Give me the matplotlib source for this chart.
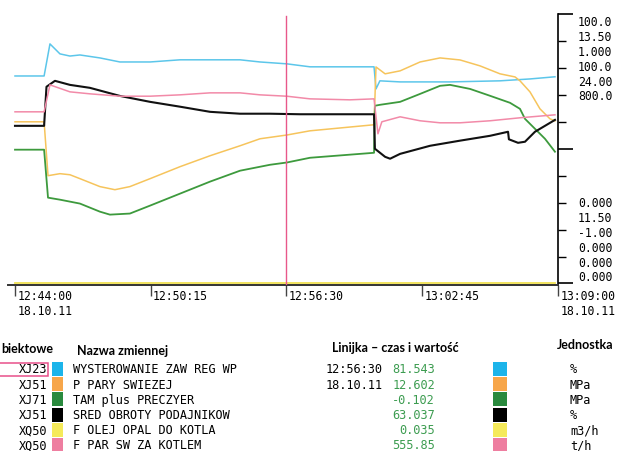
import matplotlib
matplotlib.use("Agg")
import matplotlib.pyplot as plt
from matplotlib.patches import Rectangle
from matplotlib.transforms import Affine2D, blended_transform_factory

# czas w minutach od 12:44:00, wartosci w jednostkach zmiennej
t_cyan = [0, 1.34, 1.61, 2.07, 2.53, 2.99, 3.91, 4.83, 6.22, 7.60, 8.52, 10.36, 11.28, 12.52,
          13.58, 16.53, 16.62, 16.80, 17.73, 20.03, 22.33, 23.71, 24.86]
v_cyan = [77.0, 77.0, 88.9, 85.2, 84.4, 84.8, 83.7, 82.2, 82.2, 83.0, 83.0, 83.0, 82.2, 81.5,
          80.4, 80.4, 72.2, 75.2, 74.8, 74.8, 75.2, 75.9, 76.7]

t_orange = [0, 1.34, 1.52, 2.07, 2.53, 2.99, 3.91, 4.60, 5.29, 6.22, 7.60, 8.98, 10.36, 11.28,
            12.52, 13.58, 16.53, 16.62, 17.04, 17.73, 18.65, 19.57, 20.49, 21.41, 22.33, 23.02,
            23.25, 23.71, 24.17, 24.63, 24.86]
v_orange = [12.700, 12.700, 12.300, 12.315, 12.307, 12.278, 12.219, 12.196, 12.219, 12.278,
            12.367, 12.448, 12.522, 12.574, 12.602, 12.633, 12.678, 13.107, 13.056, 13.078,
            13.144, 13.174, 13.159, 13.115, 13.056, 13.033, 13.004, 12.922, 12.796, 12.722, 12.707]

t_green = [0, 1.34, 1.52, 2.07, 2.99, 3.91, 4.37, 5.29, 6.22, 7.60, 8.98, 10.36, 11.74, 12.52,
           13.58, 16.53, 16.57, 16.80, 17.73, 18.65, 19.57, 20.03, 20.95, 21.87, 22.79, 23.25,
           23.48, 23.94, 24.40, 24.86]
v_green = [-0.007, -0.007, -0.363, -0.378, -0.407, -0.467, -0.489, -0.481, -0.422, -0.333,
           -0.244, -0.163, -0.119, -0.102, -0.067, -0.030, 0.319, 0.326, 0.348, 0.407, 0.467,
           0.474, 0.444, 0.393, 0.341, 0.296, 0.222, 0.148, 0.074, -0.022]

t_black = [0, 1.34, 1.45, 1.84, 2.53, 3.45, 4.83, 6.22, 7.60, 8.98, 10.36, 11.74, 13.12, 16.53,
           16.57, 17.04, 17.27, 17.73, 19.11, 20.49, 21.87, 22.70, 22.74, 23.16, 23.48, 23.94,
           24.40, 24.86]
v_black = [58.5, 58.5, 73.0, 75.2, 73.7, 72.6, 69.6, 67.4, 65.6, 63.7, 63.0, 63.0, 62.8, 62.8,
           50.0, 47.0, 46.3, 48.1, 51.1, 53.0, 54.8, 56.3, 53.5, 52.2, 52.6, 56.3, 58.5, 60.7]

t_yellow = [0, 24.86]
v_yellow = [0.035, 0.035]

t_pink = [0, 1.34, 1.61, 2.53, 3.45, 4.83, 6.22, 7.60, 8.98, 10.36, 11.28, 12.52, 13.58, 15.42,
          16.53, 16.71, 16.89, 17.73, 18.65, 19.57, 20.49, 21.87, 23.25, 24.86]
v_pink = [509.6, 509.6, 589.6, 568.9, 563.0, 556.0, 556.0, 560.0, 565.9, 565.9, 560.0, 555.9,
          548.1, 545.2, 548.1, 444.4, 480.0, 494.8, 483.0, 477.0, 477.0, 483.0, 491.9, 500.7]

# zakresy skal (dol / gora) jak na prawej osi
scale_lo = ["0.000", "11.50", "-1.00", "0.000", "0.000", "0.000"]
scale_hi = ["100.0", "13.50", "1.000", "100.0", "24.00", "800.0"]

codes = ["XJ23", "XJ51", "XJ71", "XJ51", "XQ50", "XQ50"]
names = ["WYSTEROWANIE ZAW REG WP", "P PARY SWIEZEJ", "TAM plus PRECZYER",
         "SRED OBROTY PODAJNIKOW", "F OLEJ OPAL DO KOTLA", "F PAR SW ZA KOTLEM"]
values = ["81.543", "12.602", "-0.102", "63.037", "0.035", "555.85"]
units = ["%", "MPa", "MPa", "%", "m3/h", "t/h"]
swatch_colors = ["#1cb4ea", "#f7a64a", "#2a8a3e", "#000000", "#f5ea5a", "#ee7ea0"]
line_colors = ["#5cc6ea", "#f6c45c", "#3d9a3d", "#111111", "#f0e050", "#f28aa8"]

tick_times = [0, 6.25, 12.5, 18.75, 25]
tick_labels = ["12:44:00\n18.10.11", "12:50:15", "12:56:30", "13:02:45", "13:09:00\n18.10.11"]
cursor_t = 12.5

W, H = 617, 452
fig = plt.figure(figsize=(W / 100, H / 100), dpi=100)
px = Affine2D().scale(1 / W, -1 / H).translate(0, 1) + fig.transFigure

ax = fig.add_axes([8 / W, 1 - 286.1 / H, 550 / W, 271.1 / H])
ax.set_xlim(-0.322, 25)
ax.set_ylim(-0.6, 100)

series = [(t_cyan, v_cyan), (t_orange, v_orange), (t_green, v_green),
          (t_black, v_black), (t_yellow, v_yellow), (t_pink, v_pink)]
lws = [1.1, 1.1, 1.3, 1.5, 1.3, 1.1]
for i, (t, v) in enumerate(series):
    lo, hi = float(scale_lo[i]), float(scale_hi[i])
    norm = [(x - lo) / (hi - lo) * 100 for x in v]
    ax.plot(t, norm, color=line_colors[i], lw=lws[i], zorder=3 if i != 4 else 4)

ax.axvline(cursor_t, ymin=0, ymax=0.993, color="#e8588a", lw=1.0, zorder=5)

for s in ["top", "left"]:
    ax.spines[s].set_visible(False)
ax.spines["bottom"].set_color("#333333")
ax.spines["bottom"].set_linewidth(1.4)
ax.spines["right"].set_linewidth(1.2)
ax.patch.set_alpha(0)

ax.yaxis.tick_right()
ax.set_yticks([0, 50, 100])
ax.set_yticks([10, 20, 30, 40, 60, 70, 80, 90], minor=True)
ax.tick_params(axis="y", which="major", length=11, width=1.2, labelright=False)
ax.tick_params(axis="y", which="minor", length=6, width=1.0)
ax.set_xticks(tick_times)
ax.set_xticklabels([])
ax.tick_params(axis="x", length=8, width=1.0, color="#444444")

mono = "DejaVu Sans Mono"
xt = blended_transform_factory(ax.transData, px)
for t, lab in zip(tick_times, tick_labels):
    ax.text(t + 0.1, 290, lab, transform=xt, family=mono, fontsize=8.3,
            ha="left", va="top", linespacing=1.25)

for i in range(6):
    fig.text(578, 23 + 14.8 * i, scale_hi[i], transform=px, family=mono, fontsize=8.3, va="center")
    fig.text(578, 204 + 14.8 * i, scale_lo[i], transform=px, family=mono, fontsize=8.3, va="center")

# legenda
hdr = dict(family="Lato", fontweight="bold", fontsize=9.0, va="center", transform=px)
fig.text(1, 349, "biektowe", ha="left", **hdr)
fig.text(77, 351, "Nazwa zmiennej", ha="left", **hdr)
fig.text(332, 348, "Linijka \u2013 czas i wartość", ha="left", **hdr)
fig.text(557, 345, "Jednostka", ha="left", **hdr)

row_h = 15.2
for i in range(6):
    yc = 370 + row_h * i
    fig.text(47, yc, codes[i], transform=px, family=mono, fontsize=8.6, ha="right", va="center")
    fig.text(73, yc, names[i], transform=px, family=mono, fontsize=8.6, ha="left", va="center")
    fig.text(435, yc, values[i], transform=px, family=mono, fontsize=8.6, ha="right",
             va="center", color="#3c9c50")
    fig.text(570, yc, units[i], transform=px, family=mono, fontsize=8.6, ha="left", va="center")
    for x0, w in [(52, 11), (493, 14)]:
        fig.add_artist(Rectangle((x0, yc - 7.1), w, 14.2, transform=px,
                                 facecolor=swatch_colors[i], edgecolor="none"))

fig.text(326, 370, "12:56:30", transform=px, family=mono, fontsize=8.6, ha="left", va="center")
fig.text(326, 370 + row_h, "18.10.11", transform=px, family=mono, fontsize=8.6, ha="left", va="center")

fig.add_artist(Rectangle((-2, 364), 50, 13, transform=px, facecolor="none",
                         edgecolor="#e8508a", lw=1.1))

fig.savefig("out.png", dpi=100)
